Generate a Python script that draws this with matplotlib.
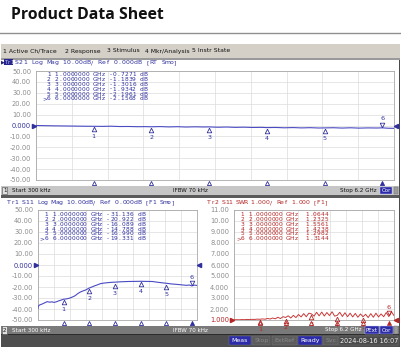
import matplotlib
matplotlib.use("Agg")
import matplotlib.pyplot as plt
from matplotlib.patches import Rectangle
from matplotlib.transforms import offset_copy, blended_transform_factory

# ---------------- data ----------------
title = "Product Data Sheet"
menu_items = ["1 Active Ch/Trace", "2 Response", "3 Stimulus", "4 Mkr/Analysis", "5 Instr State"]
menu_x = [3, 65, 107, 145, 192]

start_ghz = 0.0003
stop_ghz = 6.2

s21_freq = [0.0003, 0.15, 0.3, 0.45, 0.6, 0.75, 0.9, 1.0, 1.15, 1.3, 1.45, 1.6, 1.75, 1.9, 2.0,
            2.15, 2.3, 2.45, 2.6, 2.75, 2.9, 3.0, 3.15, 3.3, 3.45, 3.6, 3.75, 3.9, 4.0, 4.15,
            4.3, 4.45, 4.6, 4.75, 4.9, 5.0, 5.15, 5.3, 5.45, 5.6, 5.75, 5.9, 6.0, 6.1, 6.2]
s21_db = [0.0, -0.15, -0.3, -0.4, -0.5, -0.6, -0.7, -0.73, -0.8, -0.65, -0.95, -0.9, -1.1, -1.05, -1.18,
          -1.0, -1.3, -1.1, -1.4, -1.2, -1.35, -1.30, -1.6, -1.4, -1.7, -1.55, -1.8, -1.7, -1.93, -1.8,
          -2.1, -1.9, -2.2, -2.0, -2.3, -2.20, -2.05, -2.35, -2.1, -2.4, -2.2, -2.3, -2.16, -2.5, -2.6]

s11_freq = [0.0003, 0.002, 0.05, 0.1, 0.16, 0.25, 0.36, 0.45, 0.55, 0.62, 0.7, 0.82, 0.9, 1.0, 1.08,
            1.15, 1.25, 1.35, 1.45, 1.55, 1.65, 1.75, 1.85, 2.0, 2.1, 2.2, 2.3, 2.43, 2.55, 2.74,
            2.9, 3.0, 3.2, 3.5, 3.8, 4.0, 4.2, 4.46, 4.7, 5.0, 5.2, 5.5, 5.78, 5.9, 6.0, 6.1, 6.2]
s11_db = [-39.5, -38.0, -36.5, -36.0, -35.5, -34.5, -33.3, -33.8, -33.5, -34.0, -33.6, -32.5, -31.9, -31.1, -30.9,
          -30.6, -30.0, -29.0, -27.9, -26.0, -24.6, -23.6, -22.8, -20.9, -20.0, -19.0, -18.2, -17.0, -16.5, -16.0,
          -15.7, -15.6, -15.3, -15.0, -14.9, -14.8, -14.9, -15.0, -15.8, -16.6, -17.2, -17.8, -18.5, -18.2, -19.0, -18.3, -18.6]

swr_freq = [0.0003, 0.1, 0.2, 0.3, 0.4, 0.5, 0.6, 0.7, 0.8, 0.9, 1.0, 1.1, 1.2, 1.3, 1.4, 1.5,
            1.6, 1.7, 1.8, 1.9, 2.0, 2.1, 2.2, 2.3, 2.4, 2.5, 2.6, 2.7, 2.8, 2.9, 3.0, 3.1,
            3.2, 3.3, 3.4, 3.5, 3.6, 3.7, 3.8, 3.9, 4.0, 4.1, 4.2, 4.3, 4.4, 4.5, 4.6, 4.7,
            4.8, 4.9, 5.0, 5.1, 5.2, 5.3, 5.4, 5.5, 5.6, 5.7, 5.8, 5.9, 6.0, 6.1, 6.2]
swr_val = [1.02, 1.03, 1.02, 1.04, 1.03, 1.05, 1.04, 1.06, 1.05, 1.08, 1.064, 1.10, 1.07, 1.14, 1.09, 1.18,
           1.11, 1.25, 1.13, 1.30, 1.23, 1.38, 1.18, 1.42, 1.22, 1.50, 1.28, 1.58, 1.30, 1.62, 1.556, 1.35,
           1.70, 1.38, 1.72, 1.36, 1.68, 1.40, 1.75, 1.35, 1.424, 1.70, 1.32, 1.66, 1.30, 1.62, 1.28, 1.60,
           1.25, 1.55, 1.298, 1.52, 1.22, 1.58, 1.25, 1.62, 1.28, 1.55, 1.30, 1.68, 1.314, 1.75, 1.40]

marker_ids = ["1", "2", "3", "4", "5", "6"]
marker_freq = [1.0, 2.0, 3.0, 4.0, 5.0, 6.0]
s21_marker_db = [-0.7271, -1.1839, -1.3016, -1.9342, -2.1961, -2.1568]
s11_marker_db = [-31.136, -20.922, -16.089, -14.788, -16.990, -19.331]
swr_marker = [1.0644, 1.2325, 1.5561, 1.4238, 1.2982, 1.3144]

logmag_ticks = [50, 40, 30, 20, 10, 0, -10, -20, -30, -40, -50]
logmag_labels = ["50.00", "40.00", "30.00", "20.00", "10.00", "0.000",
                 "-10.00", "-20.00", "-30.00", "-40.00", "-50.00"]
swr_ticks = [11, 10, 9, 8, 7, 6, 5, 4, 3, 2, 1]
swr_labels = ["11.00", "10.00", "9.000", "8.000", "7.000", "6.000",
              "5.000", "4.000", "3.000", "2.000", "1.000"]

hdr_top = "S21 Log Mag 10.00dB/ Ref 0.000dB [RT Smo]"
hdr_bl = "Tr1 S11 Log Mag 10.00dB/ Ref 0.000dB [F1 Smo]"
hdr_br = "Tr2 S11 SWR 1.000/ Ref 1.000 [F1]"
status_items = ["Meas", "Stop", "ExtRef", "Ready", "Svc"]
status_date = "2024-08-16 16:07"

# ---------------- style ----------------
W, H = 402, 360
BLUE_T = "#30309e"
BLUE_L = "#4a4ac4"
RED_T = "#b42626"
RED_L = "#c83a3a"
GRID = "#dcdcdc"
FRAME = "#a8a8a8"
LBL = "#8c8c8c"

fig = plt.figure(figsize=(W / 100, H / 100), dpi=100)
fig.patch.set_facecolor("white")

bg = fig.add_axes([0, 0, 1, 1])
bg.set_xlim(0, W); bg.set_ylim(H, 0); bg.axis("off")


def rect(ax, x0, y0, x1, y1, fc, ec="none", lw=0.6, z=1):
    ax.add_patch(Rectangle((x0, y0), x1 - x0, y1 - y0, facecolor=fc, edgecolor=ec, linewidth=lw, zorder=z))


# title and rule
bg.text(11.5, 15, title, fontsize=11.3, weight="bold", family="Open Sans", color="#111111", va="center", ha="left")
bg.plot([0, W], [32.5, 32.5], color="#909090", lw=1.0)

# instrument screen background
rect(bg, 0.5, 44, 400.5, 347, "#4a4a4a")
rect(bg, 1, 44, 400, 57.5, "#d4d0c8")
rect(bg, 1, 57.5, 400, 59.5, "#9a9a9a")
rect(bg, 1.5, 59.5, 399, 186, "white")
rect(bg, 1.5, 186, 399, 194.5, "#c6c6c6")
rect(bg, 1.5, 194.5, 399, 197.5, "#5a5a5a")
rect(bg, 1.5, 197.5, 399, 326, "white")
rect(bg, 1.5, 326, 399, 334, "#7a7a7a")
rect(bg, 1.5, 334, 399, 335, "#2c2c2c")
rect(bg, 1.5, 335, 399, 346.5, "#4e4e4e")


def data_ax(x0, y0, x1, y1, ticks, labels, ylim):
    a = fig.add_axes([x0 / W, 1 - y1 / H, (x1 - x0) / W, (y1 - y0) / H])
    a.set_facecolor("white")
    for s in a.spines.values():
        s.set_color(FRAME); s.set_linewidth(0.6)
    grid = [start_ghz + (stop_ghz - start_ghz) * k / 10 for k in range(11)]
    a.set_xticks(grid); a.set_xticklabels([])
    a.set_xlim(start_ghz, stop_ghz)
    a.set_yticks(ticks); a.set_yticklabels(labels)
    a.set_ylim(*ylim)
    a.tick_params(length=0, labelsize=4.8, labelcolor=LBL, pad=3.5)
    a.grid(True, color=GRID, linewidth=0.5)
    a.set_axisbelow(True)
    return a


def draw_markers(a, mv, color, fill_id="6"):
    for mid, f, v in zip(marker_ids, marker_freq, mv):
        if mid == fill_id:
            t = offset_copy(a.transData, fig=fig, x=0, y=3.2, units="dots")
            a.plot([f], [v], marker="v", ms=3.3, mfc="none", mec=color, mew=0.6, transform=t, clip_on=False, zorder=5)
            a.annotate(mid, (f, v), xytext=(0, 9), textcoords="offset pixels", ha="center", va="center",
                       fontsize=4.6, color=color, annotation_clip=False, zorder=6)
        else:
            t = offset_copy(a.transData, fig=fig, x=0, y=-3.2, units="dots")
            a.plot([f], [v], marker="^", ms=3.3, mfc="none", mec=color, mew=0.6, transform=t, clip_on=False, zorder=5)
            a.annotate(mid, (f, v), xytext=(0, -10.5), textcoords="offset pixels", ha="center", va="center",
                       fontsize=4.6, color=color, annotation_clip=False, zorder=6)
    tb = offset_copy(blended_transform_factory(a.transData, a.transAxes), fig=fig, x=0, y=-2.6, units="dots")
    for mid, f in zip(marker_ids, marker_freq):
        a.plot([f], [0], marker="^", ms=3.0, mfc=color if mid == fill_id else "none", mec=color, mew=0.6,
               transform=tb, clip_on=False, zorder=5)


def ref_arrows(a, ref, color):
    tl = offset_copy(a.transData, fig=fig, x=-1.5, y=0, units="dots")
    tr = offset_copy(a.transData, fig=fig, x=1.5, y=0, units="dots")
    a.plot([start_ghz], [ref], marker=">", ms=3.0, color=color, transform=tl, clip_on=False, zorder=6)
    a.plot([stop_ghz], [ref], marker="<", ms=3.0, color=color, transform=tr, clip_on=False, zorder=6)


# ---- top: S21 log mag ----
ax1 = data_ax(36, 71, 394, 180, logmag_ticks, logmag_labels, (-50, 50))
ax1.plot(s21_freq, s21_db, color=BLUE_L, lw=0.8, zorder=3)
ax1.get_yticklabels()[5].set_color(BLUE_T)
ref_arrows(ax1, 0, BLUE_T)
draw_markers(ax1, s21_marker_db, BLUE_T)

# ---- bottom left: S11 log mag ----
ax2 = data_ax(38, 210, 197, 320, logmag_ticks, logmag_labels, (-50, 50))
ax2.plot(s11_freq, s11_db, color=BLUE_L, lw=0.8, zorder=3)
ax2.get_yticklabels()[5].set_color(BLUE_T)
ref_arrows(ax2, 0, BLUE_T)
draw_markers(ax2, s11_marker_db, BLUE_T)

# ---- bottom right: S11 SWR ----
ax3 = data_ax(234, 210, 394, 320, swr_ticks, swr_labels, (1, 11))
ax3.plot(swr_freq, swr_val, color=RED_L, lw=0.7, zorder=3)
ax3.get_yticklabels()[10].set_color(RED_T)
ref_arrows(ax3, 1, RED_T)
draw_markers(ax3, swr_marker, RED_T)

# ---------------- overlay texts ----------------
ov = fig.add_axes([0, 0, 1, 1])
ov.set_xlim(0, W); ov.set_ylim(H, 0); ov.axis("off")
ov.patch.set_alpha(0)


def grid_text(x, yc, s, pitch, size, color):
    """Draw a string on a fixed character grid (instrument style fixed pitch)."""
    base = yc + size * 1.389 * 0.36
    for i, ch in enumerate(s):
        if ch != " ":
            ov.text(x + (i + 0.5) * pitch, base, ch, fontsize=size, color=color,
                    ha="center", va="baseline")


for s, x in zip(menu_items, menu_x):
    ov.text(x, 51, s, fontsize=4.4, color="#111111", va="center", ha="left")

# headers
ov.text(0.5, 62, "\u25b6", fontsize=3.6, color="#20207a", va="center", ha="left")
rect(ov, 4, 58.8, 13.5, 65.2, "#24248a")
grid_text(4.3, 62, "Tr1", 3.0, 3.9, "#c8c8ff")
grid_text(15, 62, hdr_top, 3.95, 4.4, BLUE_T)
grid_text(7, 202, hdr_bl, 3.72, 4.4, BLUE_T)
grid_text(207, 202, hdr_br, 3.65, 4.4, RED_T)

# marker tables
row_y_top = [74.3, 79.0, 83.8, 88.6, 93.4, 98.2]
row_y_bot = [214.3, 219.0, 223.7, 228.4, 233.1, 237.8]
for k, (mid, f) in enumerate(zip(marker_ids, marker_freq)):
    pre = ">" if mid == "6" else " "
    grid_text(43, row_y_top[k], f"{pre}{mid} {f:.7f} GHz {s21_marker_db[k]:.4f} dB", 3.87, 4.2, BLUE_T)
    grid_text(40.4, row_y_bot[k], f"{pre}{mid} {f:.7f} GHz {s11_marker_db[k]:.3f} dB", 3.87, 4.2, BLUE_T)
    grid_text(237, row_y_bot[k], f"{pre}{mid} {f:.7f} GHz  {swr_marker[k]:.4f}", 3.8, 4.2, RED_T)


# channel bars
def chan_bar(yc, num, text_color, stop_right, boxes):
    rect(ov, 2, yc - 3.6, 7.5, yc + 3.6, "#e0e0e0", ec="#505050", lw=0.4)
    ov.text(4.7, yc, num, fontsize=4.0, color="#111111", va="center", ha="center")
    ov.text(12, yc, "Start 300 kHz", fontsize=4.1, color=text_color, va="center", ha="left")
    ov.text(190, yc, "IFBW 70 kHz", fontsize=4.1, color=text_color, va="center", ha="center")
    ov.text(stop_right, yc, "Stop 6.2 GHz", fontsize=4.1, color=text_color, va="center", ha="right")
    for (x0, x1, s) in boxes:
        rect(ov, x0, yc - 3.6, x1, yc + 3.6, "#2c2ca8", ec="#d0d0ff", lw=0.3)
        ov.text((x0 + x1) / 2, yc, s, fontsize=4.0, color="white", va="center", ha="center")
    rect(ov, 394.5, yc - 3.6, 398.5, yc + 3.6, "#9c9c9c", ec="#6a6a6a", lw=0.3)


chan_bar(190.3, "1", "#111111", 377, [(380, 392, "Cor")])
chan_bar(330, "2", "white", 362, [(365, 379, "PExt"), (380.5, 393, "Cor")])

# status bar
status_boxes = [(229, 251), (252.5, 270.5), (272, 297), (298, 322), (323.5, 338)]
status_active = ["Meas", "Ready"]
for (x0, x1), s in zip(status_boxes, status_items):
    on = s in status_active
    rect(ov, x0, 336.2, x1, 345.2, "#2c2ca8" if on else "#5c5c5c", ec="#7a7a7a", lw=0.3)
    ov.text((x0 + x1) / 2, 340.8, s, fontsize=4.5, color="white" if on else "#8a8a8a", va="center", ha="center")
rect(ov, 339.5, 336.2, 398.5, 345.2, "#4a4a4a", ec="#7a7a7a", lw=0.3)
ov.text(369, 340.8, status_date, fontsize=4.7, color="#f0f0f0", va="center", ha="center")

fig.savefig("out.png", dpi=100)
